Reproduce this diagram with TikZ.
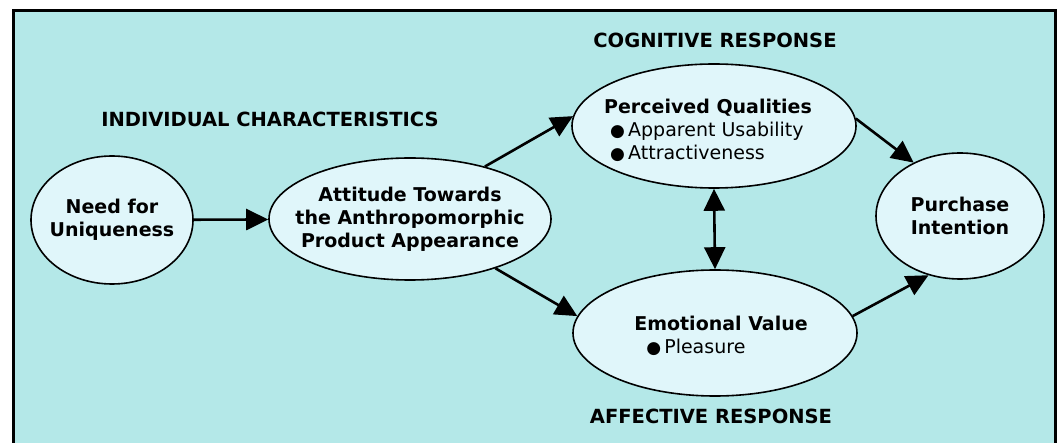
\documentclass[tikz,border=0pt]{standalone}
\usepackage{fontspec}
\setmainfont{DejaVu Sans}
\usetikzlibrary{arrows.meta,shapes.geometric}
\definecolor{panelfill}{HTML}{B4E8E8}
\definecolor{bubblefill}{HTML}{E0F6FA}
\newcommand{\dotitem}{{\fontsize{17}{17}\selectfont ●}}
\begin{document}
\begin{tikzpicture}[x=1pt,y=-1pt,
  bubble/.style={ellipse, draw=black, line width=1.6pt, fill=bubblefill, inner sep=0pt},
  btext/.style={font=\fontsize{19}{23}\selectfont\bfseries, align=center, inner sep=0pt},
  ltext/.style={font=\fontsize{19}{23}\selectfont, align=left, inner sep=0pt},
  heading/.style={font=\fontsize{19.5}{22}\selectfont\bfseries, inner sep=0pt},
  link/.style={line width=2.6pt, -{Triangle[length=22pt,width=21pt]}},
  dlink/.style={line width=2.6pt, {Triangle[length=22pt,width=21pt]}-{Triangle[length=22pt,width=21pt]}}]
\useasboundingbox (0,0) rectangle (1057,443);
\fill[white] (0,0) rectangle (1057,443);
% background panel
\draw[line width=3pt, fill=panelfill] (13.5,11) rectangle (1055.5,470);

% section headings
\node[heading] (hind) at (270,119) {INDIVIDUAL CHARACTERISTICS};
\node[heading] (hcog) at (715,40) {COGNITIVE RESPONSE};
\node[heading] (haff) at (711,416) {AFFECTIVE RESPONSE};

% constructs
\node[bubble, minimum width=162pt, minimum height=128pt] (need) at (112,220) {};
\node[btext] (need-t) at (need) {Need for\\Uniqueness};

\node[bubble, minimum width=282pt, minimum height=122pt] (att) at (410,219) {};
\node[btext] (att-t) at (att) {Attitude Towards\\the Anthropomorphic\\Product Appearance};

\node[bubble, minimum width=284pt, minimum height=124pt] (pq) at (714,126) {};
\node[ltext] (pq-t) at (708,130) {\textbf{Perceived Qualities}\\\hspace{6pt}\dotitem\,Apparent Usability\\\hspace{6pt}\dotitem\,Attractiveness};

\node[bubble, minimum width=284pt, minimum height=126pt] (ev) at (715,333) {};
\node[ltext] (ev-t) at (721,336) {\textbf{Emotional Value}\\\hspace{12pt}\dotitem\,Pleasure};

\node[bubble, minimum width=168pt, minimum height=126pt] (pi) at (960,216) {};
\node[btext] (pi-t) at (pi) {Purchase\\Intention};

% relations
\draw[link] (need) -- (att);
\draw[link] (att.35) -- (pq.176);
\draw[link] (att.-30) -- (ev.173);
\draw[link] (pq.3) -- (pi.131);
\draw[link] (ev.7) -- (pi.242);
\draw[dlink] (pq.south) -- (ev.north);
\end{tikzpicture}
\end{document}
